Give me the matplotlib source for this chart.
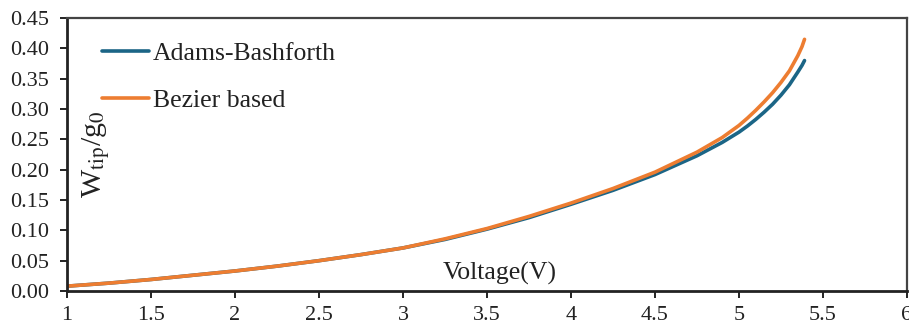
import matplotlib
matplotlib.use("Agg")
import matplotlib.pyplot as plt
from matplotlib.ticker import FormatStrFormatter

plt.rcParams['font.family'] = ['Liberation Serif', 'DejaVu Serif']
plt.rcParams['mathtext.fontset'] = 'stix'

# tip deflection vs applied voltage
voltage = [1.0, 1.25, 1.5, 1.75, 2.0, 2.25, 2.5, 2.75, 3.0, 3.25, 3.5, 3.75,
           4.0, 4.25, 4.5, 4.75, 4.9, 5.0, 5.05, 5.1, 5.15, 5.2, 5.25, 5.3,
           5.35, 5.375, 5.39]
adams = [0.008, 0.013, 0.019, 0.026, 0.033, 0.041, 0.050, 0.060, 0.071, 0.085,
         0.102, 0.121, 0.143, 0.166, 0.192, 0.223, 0.245, 0.262, 0.272, 0.283,
         0.295, 0.308, 0.323, 0.340, 0.361, 0.372, 0.380]
bezier = [0.008, 0.013, 0.019, 0.026, 0.033, 0.041, 0.050, 0.060, 0.071, 0.086,
          0.103, 0.123, 0.145, 0.169, 0.196, 0.229, 0.253, 0.273, 0.285, 0.298,
          0.312, 0.327, 0.344, 0.363, 0.388, 0.403, 0.415]

xticks = [1, 1.5, 2, 2.5, 3, 3.5, 4, 4.5, 5, 5.5, 6]
xticklabels = ['1', '1.5', '2', '2.5', '3', '3.5', '4', '4.5', '5', '5.5', '6']

fig = plt.figure(figsize=(9.09, 3.29), dpi=100)
ax = fig.add_axes([0.0737, 0.1155, 0.9241, 0.8295])

ax.plot(voltage, adams, color='#1b6586', lw=2.6, solid_capstyle='round',
        solid_joinstyle='round', label='Adams-Bashforth')
ax.plot(voltage, bezier, color='#ed7d31', lw=2.6, solid_capstyle='round',
        solid_joinstyle='round', label='Bezier based')

ax.set_xlim(1, 6)
ax.set_ylim(0, 0.45)
ax.set_xticks(xticks)
ax.set_xticklabels(xticklabels)
ax.set_yticks([i * 0.05 for i in range(10)])
ax.yaxis.set_major_formatter(FormatStrFormatter('%.2f'))
ax.tick_params(direction='out', length=5, width=1.4, labelsize=16, color='#222222',
               labelcolor='#222222')
ax.tick_params(axis='x', pad=6)
ax.tick_params(axis='y', pad=8)

for side in ['left', 'bottom']:
    ax.spines[side].set_linewidth(2.0)
    ax.spines[side].set_color('#222222')
for side in ['top', 'right']:
    ax.spines[side].set_linewidth(1.6)
    ax.spines[side].set_color('#444444')

ax.set_xlabel('Voltage(V)', fontsize=18.5, color='#222222')
ax.xaxis.set_label_coords(0.515, 0.066)
ax.xaxis.label.set_va('center')
ax.set_ylabel(r'W$_{\mathrm{tip}}$/g$_0$', fontsize=21.5, color='#222222')
ax.yaxis.set_label_coords(0.035, 0.50)
ax.yaxis.label.set_va('center')

ax.legend(loc='upper left', bbox_to_anchor=(0.042, 0.914), frameon=False,
          fontsize=18.5, handlelength=1.82, handletextpad=0.15,
          labelspacing=0.95, borderpad=0, borderaxespad=0, labelcolor='#222222')

fig.savefig('out.png', dpi=100)
